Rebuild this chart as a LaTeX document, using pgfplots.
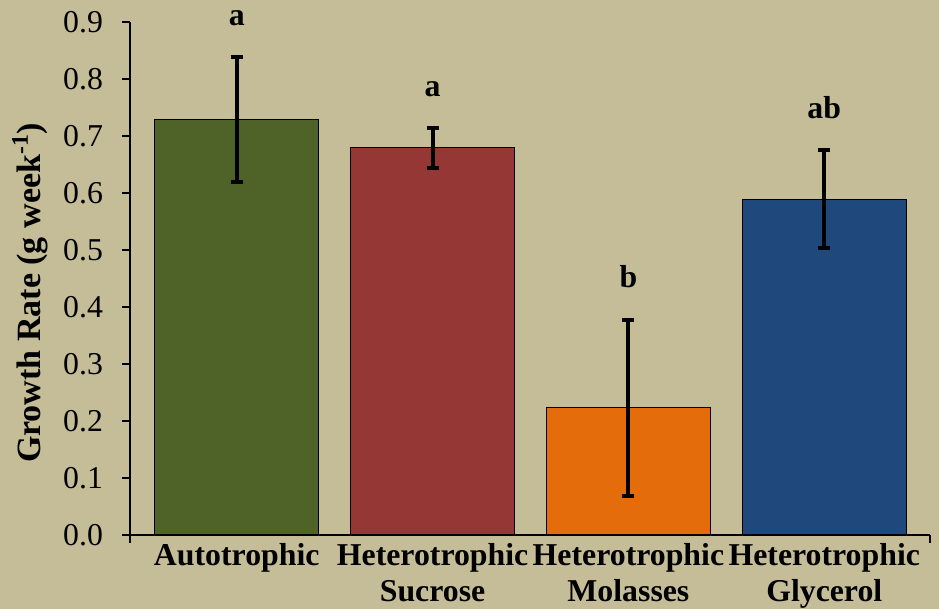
\documentclass[border=0pt]{standalone}
\usepackage{pgfplots}
\pgfplotsset{compat=1.18}
\usepackage{fontspec}
\setmainfont{Liberation Serif}
\usetikzlibrary{backgrounds}
\definecolor{bgtan}{HTML}{C4BD97}
\definecolor{olivebar}{HTML}{4F6228}
\definecolor{redbar}{HTML}{953735}
\definecolor{orangebar}{HTML}{E46C0A}
\definecolor{bluebar}{HTML}{1F497D}
\newcommand{\chartfont}{\fontsize{15.9}{18}\selectfont}
\pgfplotsset{
  growthbar/.style={
    ybar, bar shift=0pt, fill=#1, draw=black, line width=0.5pt,
    error bars/.cd, y dir=both, y explicit,
    error bar style={line width=2pt, draw=black},
    error mark options={rotate=90, mark size=3pt, line width=2pt, draw=black},
  },
}
\begin{document}
\begin{tikzpicture}[font=\chartfont]
\begin{axis}[
  scale only axis, width=400pt, height=256.5pt,
  xmin=-0.545, xmax=3.54, ymin=0, ymax=0.9,
  clip=false,
  axis x line*=bottom, axis y line*=left,
  axis line style={black, line width=0.6pt},
  tick align=outside, major tick length=4pt,
  tick style={black, line width=0.6pt},
  ytick={0,0.1,0.2,0.3,0.4,0.5,0.6,0.7,0.8,0.9},
  /pgf/number format/assume math mode=true,
  y tick label style={/pgf/number format/.cd, fixed, fixed zerofill, precision=1, /tikz/.cd, xshift=-6pt},
  xtick={0,1,2,3},
  xticklabels={Autotrophic, Heterotrophic\\Sucrose, Heterotrophic\\Molasses, Heterotrophic\\Glycerol},
  x tick label style={align=center, font=\chartfont\bfseries, yshift=3.5pt},
  x tick style={draw=none},
  bar width=0.836,
  ylabel={Growth Rate (g week\textsuperscript{-1})},
  ylabel style={at={(rel axis cs:-0.125,0.472)}, anchor=center, font=\fontsize{17}{20}\selectfont\bfseries},
]
\addplot[growthbar=olivebar]  coordinates {(0,0.729) +- (0,0.109)};
\addplot[growthbar=redbar]    coordinates {(1,0.679) +- (0,0.035)};
\addplot[growthbar=orangebar] coordinates {(2,0.223) +- (0,0.155)};
\addplot[growthbar=bluebar]   coordinates {(3,0.589) +- (0,0.086)};

% significance letters above the error bars
\node[anchor=base, font=\chartfont\bfseries, yshift=16pt] at (axis cs:0,0.838) {a};
\node[anchor=base, font=\chartfont\bfseries, yshift=16pt] at (axis cs:1,0.714) {a};
\node[anchor=base, font=\chartfont\bfseries, yshift=16pt] at (axis cs:2,0.378) {b};
\node[anchor=base, font=\chartfont\bfseries, yshift=16pt] at (axis cs:3,0.675) {ab};

% end ticks of the category axis
\draw[black, line width=0.6pt] (rel axis cs:0,0) -- ++(0pt,-4pt);
\draw[black, line width=0.6pt] (rel axis cs:1,0) -- ++(0pt,-4pt);

\coordinate (ll) at (rel axis cs:0,0);
\coordinate (ur) at (rel axis cs:1,1);
\end{axis}
\begin{scope}[on background layer]
  \fill[bgtan] ([xshift=-65pt,yshift=-37pt]ll) rectangle ([xshift=4.5pt,yshift=11pt]ur);
\end{scope}
\pgfresetboundingbox
\path[use as bounding box] ([xshift=-65pt,yshift=-37pt]ll) rectangle ([xshift=4.5pt,yshift=11pt]ur);
\end{tikzpicture}
\end{document}
